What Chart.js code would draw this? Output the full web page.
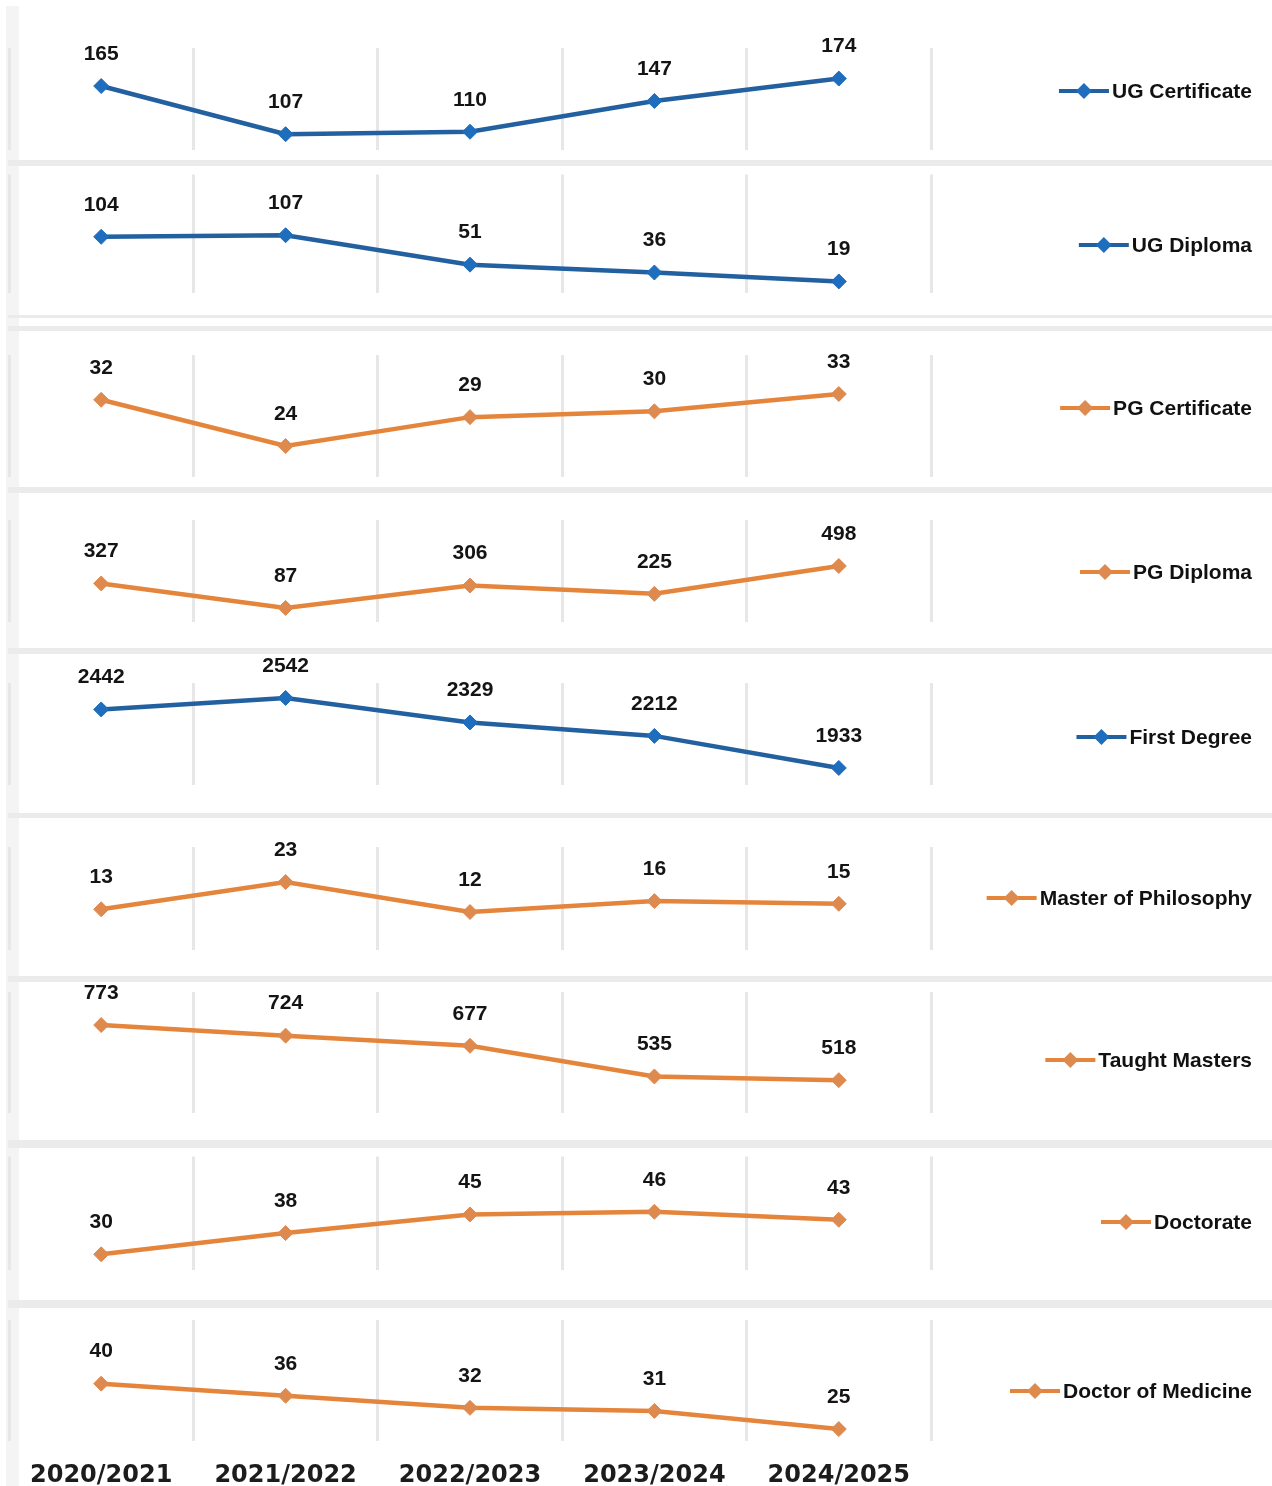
<!DOCTYPE html>
<html>
<head>
<meta charset="utf-8">
<script src="https://cdn.jsdelivr.net/npm/chart.js@4/dist/chart.umd.min.js"></script>
<style>
  html, body { margin: 0; padding: 0; background: #ffffff; }
  #wrap { position: relative; width: 1272px; height: 1486px; overflow: hidden; background: #fff; }
  .sep { position: absolute; left: 8px; width: 1264px; background: #ebebeb; }
  .strip { position: absolute; left: 6px; top: 6px; width: 13px; height: 1480px; background: #f4f4f4; }
  canvas.panel { position: absolute; left: 0; }
</style>
</head>
<body>
<div id="wrap">
  <div class="strip"></div>
</div>
<script>
// ---------- DATA ----------
const years = ['2020/2021', '2021/2022', '2022/2023', '2023/2024', '2024/2025'];
const programmes = ['UG Certificate', 'UG Diploma', 'PG Certificate', 'PG Diploma', 'First Degree',
                    'Master of Philosophy', 'Taught Masters', 'Doctorate', 'Doctor of Medicine'];
const ugCertificate      = [165, 107, 110, 147, 174];
const ugDiploma          = [104, 107, 51, 36, 19];
const pgCertificate      = [32, 24, 29, 30, 33];
const pgDiploma          = [327, 87, 306, 225, 498];
const firstDegree        = [2442, 2542, 2329, 2212, 1933];
const masterOfPhilosophy = [13, 23, 12, 16, 15];
const taughtMasters      = [773, 724, 677, 535, 518];
const doctorate          = [30, 38, 45, 46, 43];
const doctorOfMedicine   = [40, 36, 32, 31, 25];
const seriesValues = [ugCertificate, ugDiploma, pgCertificate, pgDiploma, firstDegree,
                      masterOfPhilosophy, taughtMasters, doctorate, doctorOfMedicine];

// ---------- LAYOUT / STYLE ----------
const BLUE = '#22609f', BLUE_PT = '#1f6dbd';
const ORANGE = '#e5853c', ORANGE_PT = '#de8a4f';
const colorKind = ['b', 'b', 'o', 'o', 'b', 'o', 'o', 'o', 'o'];
// [canvasTop, canvasBottom, gridTop, gridBottom, legendY]
const panelBoxes = [
  [0, 160, 48, 150, 91],
  [166, 315, 170, 293, 245],
  [331, 487, 355, 477, 408],
  [493, 648, 520, 622, 572],
  [654, 813, 683, 785, 737],
  [818, 976, 847, 950, 898],
  [982, 1140, 992, 1113, 1060],
  [1148, 1300, 1155, 1270, 1222],
  [1308, 1510, 1320, 1440, 1391]
];
const yRanges = [
  [88, 210.8], [-3, 222.6], [18.64, 39.75], [-51, 949], [1785, 2672],
  [-1.9, 35.8], [366, 926], [24.1, 66.8], [21, 61]
];
const separators = [[160, 6], [315, 3], [326, 5], [487, 6], [648, 6], [813, 5], [976, 6], [1140, 8], [1300, 8]];

const wrap = document.getElementById('wrap');
separators.forEach(([t, h]) => {
  const d = document.createElement('div');
  d.className = 'sep';
  d.style.top = t + 'px';
  d.style.height = h + 'px';
  wrap.appendChild(d);
});

const valueLabels = {
  id: 'valueLabels',
  afterDatasetsDraw(chart) {
    const ctx = chart.ctx;
    const meta = chart.getDatasetMeta(0);
    const data = chart.data.datasets[0].data;
    ctx.save();
    ctx.font = 'bold 21px "Liberation Sans", Arial, sans-serif';
    ctx.fillStyle = '#141414';
    ctx.textAlign = 'center';
    ctx.textBaseline = 'middle';
    meta.data.forEach((pt, i) => {
      ctx.fillText(String(data[i]), pt.x, pt.y - 32);
    });
    ctx.restore();
  }
};

const sideLegend = {
  id: 'sideLegend',
  afterDraw(chart, args, opts) {
    const ctx = chart.ctx;
    const ds = chart.data.datasets[0];
    ctx.save();
    ctx.font = 'bold 21px "Liberation Sans", Arial, sans-serif';
    ctx.textAlign = 'right';
    ctx.textBaseline = 'middle';
    const right = 1252;
    const w = ctx.measureText(ds.label).width;
    const y = opts.y;
    const x1 = right - w - 3;
    const x0 = x1 - 50;
    ctx.strokeStyle = ds.borderColor;
    ctx.lineWidth = 4;
    ctx.beginPath();
    ctx.moveTo(x0, y);
    ctx.lineTo(x1, y);
    ctx.stroke();
    const cx = (x0 + x1) / 2, r = 8;
    ctx.fillStyle = ds.pointBackgroundColor;
    ctx.beginPath();
    ctx.moveTo(cx, y - r); ctx.lineTo(cx + r, y); ctx.lineTo(cx, y + r); ctx.lineTo(cx - r, y);
    ctx.closePath();
    ctx.fill();
    ctx.fillStyle = '#111';
    ctx.fillText(ds.label, right, y + 1);
    ctx.restore();
  }
};

programmes.forEach((name, idx) => {
  const [cTop, cBot, gTop, gBot, legY] = panelBoxes[idx];
  const isLast = idx === programmes.length - 1;
  const cv = document.createElement('canvas');
  cv.className = 'panel';
  cv.style.top = cTop + 'px';
  const h = cBot - cTop;
  cv.width = 1272; cv.height = h;
  cv.style.width = '1272px'; cv.style.height = h + 'px';
  wrap.appendChild(cv);
  const blue = colorKind[idx] === 'b';
  const line = blue ? BLUE : ORANGE;
  const pt = blue ? BLUE_PT : ORANGE_PT;
  new Chart(cv, {
    type: 'line',
    data: {
      labels: years,
      datasets: [{
        label: name,
        data: seriesValues[idx],
        borderColor: line,
        backgroundColor: pt,
        borderWidth: 4.5,
        tension: 0,
        pointStyle: 'rectRot',
        pointRadius: 7.5,
        pointHoverRadius: 7.5,
        pointBackgroundColor: pt,
        pointBorderColor: pt,
        pointBorderWidth: 1
      }]
    },
    options: {
      responsive: false,
      animation: false,
      events: [],
      layout: {
        padding: {
          left: 9,
          right: 1272 - 931,
          top: gTop - cTop,
          bottom: isLast ? 0 : (cBot - gBot)
        }
      },
      plugins: {
        legend: { display: false },
        tooltip: { enabled: false },
        sideLegend: { y: legY - cTop }
      },
      scales: {
        x: {
          offset: true,
          grid: { display: true, offset: true, color: '#e7e7e7', lineWidth: 3, drawTicks: false },
          border: { display: false },
          ticks: {
            display: isLast,
            padding: 20,
            color: '#1c1c1c',
            font: { family: '"DejaVu Sans", sans-serif', weight: 'bold', size: 24 },
            maxRotation: 0,
            autoSkip: false
          }
        },
        y: {
          display: false,
          min: yRanges[idx][0],
          max: yRanges[idx][1]
        }
      }
    },
    plugins: [valueLabels, sideLegend]
  });
});
</script>
</body>
</html>
